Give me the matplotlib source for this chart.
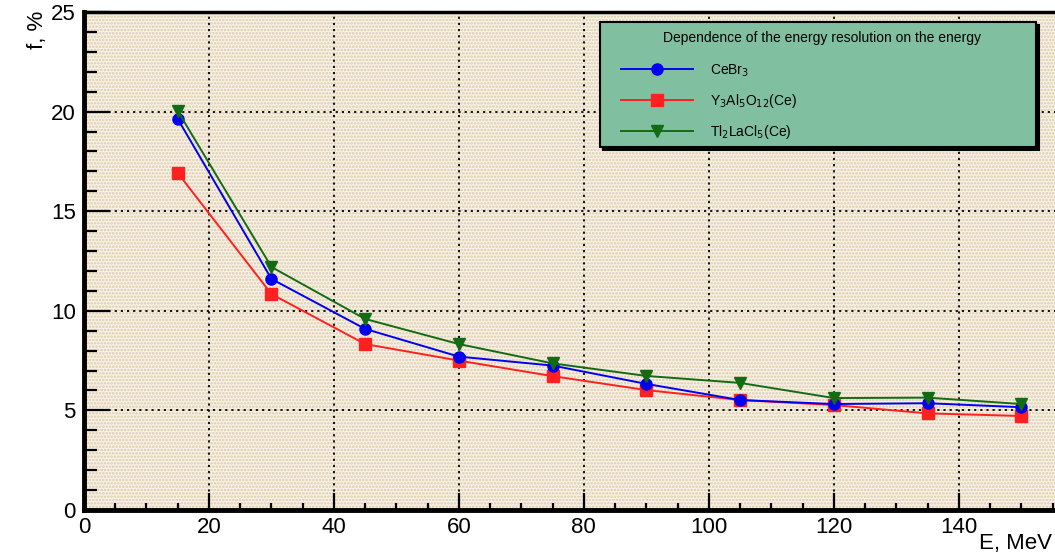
import matplotlib
matplotlib.use("Agg")
import matplotlib.pyplot as plt
from matplotlib.ticker import MultipleLocator
from matplotlib.legend_handler import HandlerLine2D
from matplotlib.lines import Line2D
import matplotlib.patches as mpatches

plt.rcParams['font.family'] = ['Liberation Sans', 'DejaVu Sans']
plt.rcParams['hatch.linewidth'] = 1.2

energy = [15, 30, 45, 60, 75, 90, 105, 120, 135, 150]
cebr3 = [19.63, 11.6, 9.09, 7.7, 7.25, 6.33, 5.52, 5.32, 5.36, 5.16]
yag = [16.92, 10.84, 8.33, 7.5, 6.72, 6.02, 5.52, 5.27, 4.85, 4.72]
tlc = [20.03, 12.2, 9.59, 8.33, 7.36, 6.73, 6.38, 5.62, 5.64, 5.32]
labels = ['CeBr$_3$', 'Y$_3$Al$_5$O$_{12}$(Ce)', 'Tl$_2$LaCl$_5$(Ce)']
legend_title = 'Dependence of the energy resolution on the energy'


class ShiftedLine(HandlerLine2D):
    shift = 11

    def create_artists(self, legend, orig_handle, xdescent, ydescent, width, height, fontsize, trans):
        return super().create_artists(legend, orig_handle, xdescent - self.shift, ydescent,
                                      width - self.shift, height, fontsize, trans)


W, H = 1055, 558
fig = plt.figure(figsize=(W / 100, H / 100), dpi=100)
x0, y0, x1, y1 = 84, 12, 1055, 510
ax = fig.add_axes([x0 / W, 1 - y1 / H, (x1 - x0) / W, (y1 - y0) / H])
ax.set_facecolor('#f8f2e8')
bg = mpatches.Rectangle((0, 0), 1, 1, transform=ax.transAxes, facecolor='none',
                        edgecolor='#dccaa9', hatch='.....', linewidth=0, zorder=0)
ax.add_patch(bg)

ax.set_xlim(0, 155.4)
ax.set_ylim(0, 25)
ax.xaxis.set_major_locator(MultipleLocator(20))
ax.xaxis.set_minor_locator(MultipleLocator(5))
ax.yaxis.set_major_locator(MultipleLocator(5))
ax.yaxis.set_minor_locator(MultipleLocator(1))
ax.grid(True, which='major', color='black', linestyle=(0, (1.2, 2.2)), linewidth=1.3, zorder=1)
ax.set_axisbelow(True)

ax.tick_params(axis='y', which='major', direction='in', length=19, width=1.6, labelsize=16, pad=6)
ax.tick_params(axis='y', which='minor', direction='in', length=9, width=1.6)
ax.tick_params(axis='x', which='major', direction='in', length=12, width=1.6, labelsize=16, pad=5)
ax.tick_params(axis='x', which='minor', direction='in', length=5, width=1.6)

for s in ['left', 'bottom']:
    ax.spines[s].set_linewidth(3.5)
ax.spines['top'].set_linewidth(2.5)
ax.spines['right'].set_visible(False)

ax.plot(energy, cebr3, color='#0000ee', marker='o', markersize=8, linewidth=1.4, label=labels[0], zorder=4)
ax.plot(energy, yag, color='#ff2020', marker='s', markersize=8, linewidth=1.4, label=labels[1], zorder=3)
ax.plot(energy, tlc, color='#136b13', marker='v', markersize=8, linewidth=1.4, label=labels[2], zorder=5)

lx0 = (600 - x0) / (x1 - x0)
lx1 = (1036 - x0) / (x1 - x0)
ly1 = 1 - (22 - y0) / (y1 - y0)
ly0 = 1 - (147 - y0) / (y1 - y0)
leg = ax.legend(loc='upper left', bbox_to_anchor=(lx0, ly0, lx1 - lx0, ly1 - ly0), mode='expand',
                title=' ', title_fontsize=16, fontsize=10, frameon=True, fancybox=False,
                shadow={'color': 'black', 'alpha': 1.0}, facecolor='#80c0a0', edgecolor='black',
                framealpha=1, borderpad=0.43, labelspacing=0.95, handlelength=6.26, handletextpad=1.22,
                borderaxespad=0, handler_map={Line2D: ShiftedLine()})
leg.get_frame().set_linewidth(1.5)
leg._legend_box.align = 'left'
ax.text((822 - x0) / (x1 - x0), 1 - (38 - y0) / (y1 - y0), legend_title, transform=ax.transAxes,
        fontsize=10, ha='center', va='center', zorder=10)

fig.text(38 / W, 1 - 30 / H, 'f, %', rotation=90, fontsize=16, ha='center', va='center')
fig.text(1052 / W, 1 - 544 / H, 'E, MeV', fontsize=16, ha='right', va='center')

fig.savefig('out.png', dpi=100, facecolor='white')
